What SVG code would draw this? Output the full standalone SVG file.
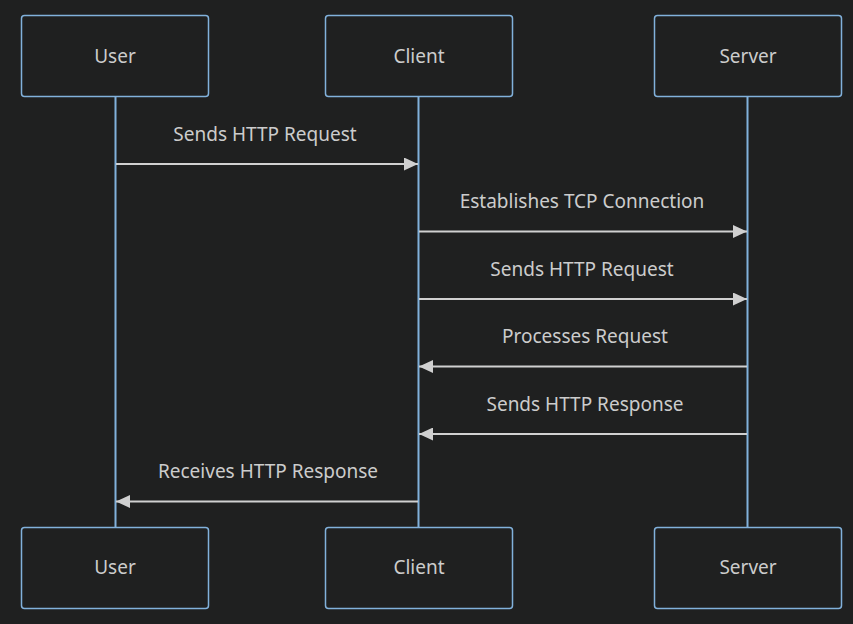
<svg xmlns="http://www.w3.org/2000/svg" width="853" height="624" viewBox="0 0 853 624">
<style>
.actor{fill:#1f2020;stroke:#81b1db;stroke-width:1.5}
.atext{fill:#cccccc;font-family:"Noto Sans","DejaVu Sans",sans-serif;font-size:19px;text-anchor:middle;dominant-baseline:central}
.life{stroke:#81b1db;stroke-width:2}
.msg{stroke:#d0d0d0;stroke-width:2;fill:none}
.mtext{fill:#cccccc;font-family:"Noto Sans","DejaVu Sans",sans-serif;font-size:19px;text-anchor:middle;dominant-baseline:central}
</style>
<defs>
<marker id="arr" viewBox="0 0 14 13" refX="14" refY="6.5" markerWidth="14" markerHeight="13" markerUnits="userSpaceOnUse" orient="auto">
<path d="M0,0 L14,6.5 L0,13 z" fill="#d0d0d0"/>
</marker>
</defs>
<rect width="853" height="624" fill="#1f2020"/>
<g id="lifelines">
<line class="life" x1="115.5" y1="97" x2="115.5" y2="527"/>
<line class="life" x1="418.5" y1="97" x2="418.5" y2="527"/>
<line class="life" x1="747.5" y1="97" x2="747.5" y2="527"/>
</g>
<g id="user-top"><rect class="actor" x="21.5" y="15.5" width="187" height="81" rx="3"/><text class="atext" x="115" y="55.5">User</text></g>
<g id="client-top"><rect class="actor" x="325.5" y="15.5" width="187" height="81" rx="3"/><text class="atext" x="419" y="55.5">Client</text></g>
<g id="server-top"><rect class="actor" x="654.5" y="15.5" width="187" height="81" rx="3"/><text class="atext" x="748" y="55.5">Server</text></g>
<g id="user-bottom"><rect class="actor" x="21.5" y="527.5" width="187" height="81" rx="3"/><text class="atext" x="115" y="566.5">User</text></g>
<g id="client-bottom"><rect class="actor" x="325.5" y="527.5" width="187" height="81" rx="3"/><text class="atext" x="419" y="566.5">Client</text></g>
<g id="server-bottom"><rect class="actor" x="654.5" y="527.5" width="187" height="81" rx="3"/><text class="atext" x="748" y="566.5">Server</text></g>
<g id="connectors">
<line class="msg" x1="116" y1="164" x2="418" y2="164" marker-end="url(#arr)"/>
<text class="mtext" x="265" y="133.5">Sends HTTP Request</text>
<line class="msg" x1="419" y1="231.5" x2="747" y2="231.5" marker-end="url(#arr)"/>
<text class="mtext" x="582" y="200.5">Establishes TCP Connection</text>
<line class="msg" x1="419" y1="299" x2="747" y2="299" marker-end="url(#arr)"/>
<text class="mtext" x="582" y="268.5">Sends HTTP Request</text>
<line class="msg" x1="747" y1="366.5" x2="419" y2="366.5" marker-end="url(#arr)"/>
<text class="mtext" x="585" y="335.5">Processes Request</text>
<line class="msg" x1="747" y1="434" x2="419" y2="434" marker-end="url(#arr)"/>
<text class="mtext" x="585" y="403.5">Sends HTTP Response</text>
<line class="msg" x1="418" y1="501.5" x2="116" y2="501.5" marker-end="url(#arr)"/>
<text class="mtext" x="268" y="470.5">Receives HTTP Response</text>
</g>
</svg>
